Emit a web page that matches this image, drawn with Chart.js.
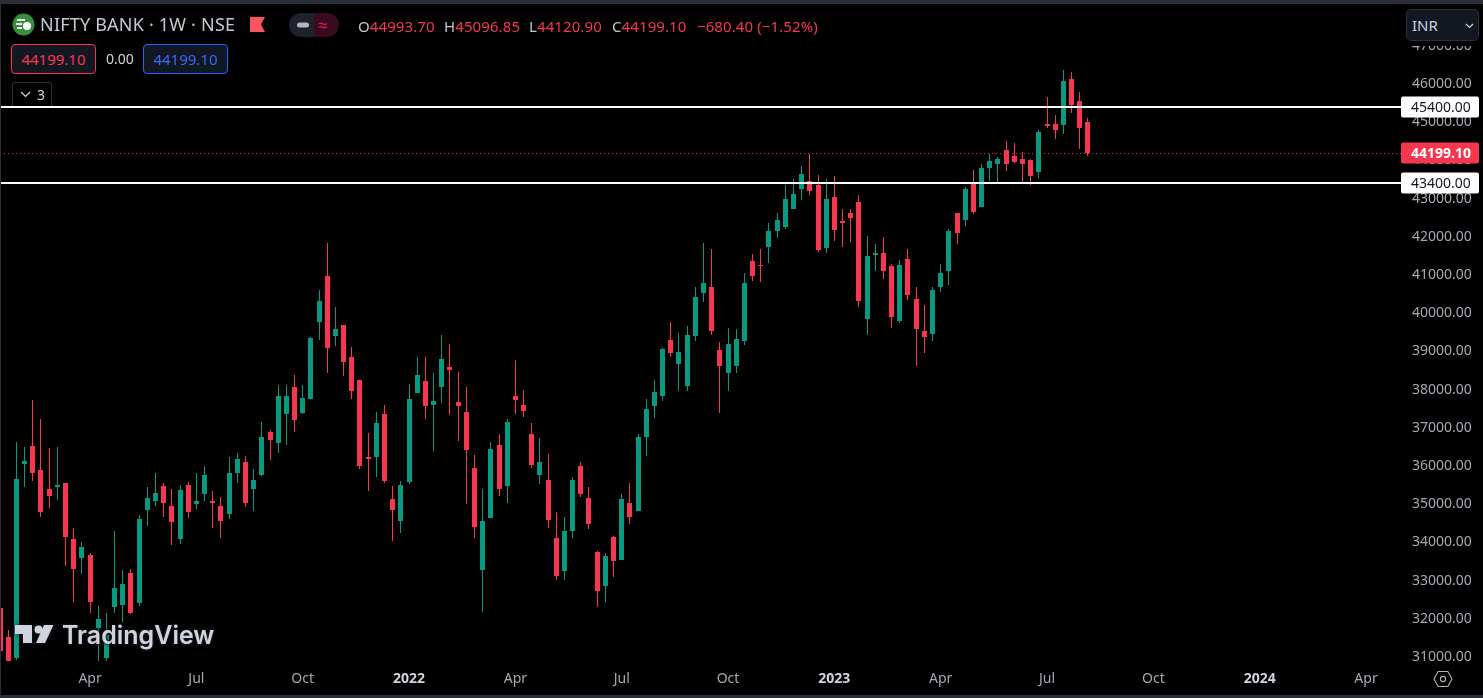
<!DOCTYPE html>
<html>
<head>
<meta charset="utf-8">
<title>NIFTY BANK 1W</title>
<script src="https://cdn.jsdelivr.net/npm/chart.js@4/dist/chart.umd.min.js"></script>
<style>
html, body { margin: 0; padding: 0; background: #000; width: 1483px; height: 698px; overflow: hidden; font-family: "Noto Sans", sans-serif; }
#candles { position: absolute; left: 0; top: 0; }
.abs { position: absolute; white-space: nowrap; }
.band { position: absolute; background: #2a2e39; }
.mask { position: absolute; background: #000; }
.ohlc { top: 15px; font-size: 15px; line-height: 22px; color: #f7374f; letter-spacing: 0.1px; }
.ohlc b { font-weight: 400; color: #c5c8d0; }
.pricebox { top: 44px; width: 83px; height: 28px; line-height: 28px; text-align: center; font-size: 15px; border-radius: 4px; background: #131722; border: 1px solid; }
</style>
</head>
<body>
<canvas id="candles" width="1483" height="698"></canvas>

<div class="band" style="left:0;top:0;width:1483px;height:4px"></div>
<div class="band" style="left:0;top:695px;width:1483px;height:3px"></div>
<div class="band" style="left:0;top:0;width:1px;height:698px"></div>

<!-- header -->
<svg class="abs" style="left:12px;top:13px" width="23" height="23" viewBox="0 0 23 23">
  <circle cx="11.5" cy="11.5" r="11" fill="#388e3c"/>
  <rect x="5" y="6" width="8" height="2" fill="#e8f5e9"/>
  <rect x="4" y="10" width="6" height="2" fill="#e8f5e9"/>
  <rect x="5" y="14" width="5" height="2" fill="#e8f5e9"/>
  <circle cx="15" cy="13" r="4" fill="#fff"/>
</svg>
<div class="abs" style="left:40px;top:12px;font-size:18px;line-height:25px;color:#c5c8d0;letter-spacing:0.2px">NIFTY BANK · 1W · NSE</div>
<svg class="abs" style="left:250px;top:17px" width="16" height="15"><polygon points="0,0 15,0 11,7.5 15,15 0,15" fill="#f9545f"/></svg>

<svg class="abs" style="left:289px;top:13px" width="50" height="24">
  <path d="M12 0H25V24H12A12 12 0 0 1 12 0Z" fill="#1e222d"/>
  <path d="M25 0H38A12 12 0 0 1 38 24H25Z" fill="#3a0a1e"/>
  <rect x="8" y="9.5" width="12" height="5" rx="2.5" fill="#b2b5be"/>
</svg>
<div class="abs" style="left:318px;top:12px;font-size:17px;line-height:25px;color:#e91e63">≈</div>

<div class="abs ohlc" style="left:358px"><b>O</b>44993.70</div>
<div class="abs ohlc" style="left:444px"><b>H</b>45096.85</div>
<div class="abs ohlc" style="left:529px"><b>L</b>44120.90</div>
<div class="abs ohlc" style="left:612px"><b>C</b>44199.10</div>
<div class="abs ohlc" style="left:697px">−680.40 (−1.52%)</div>

<div class="abs pricebox" style="left:11px;border-color:#f7374f;color:#f7374f">44199.10</div>
<div class="abs" style="left:106px;top:48px;font-size:14px;line-height:22px;color:#d1d4dc">0.00</div>
<div class="abs pricebox" style="left:143px;border-color:#2962ff;color:#2f6bff">44199.10</div>

<div class="abs" style="left:12px;top:82px;width:38px;height:23px;border:1px solid #2a2e39;border-bottom:none;border-radius:3px 3px 0 0;background:#000">
  <svg class="abs" style="left:7px;top:8px" width="11" height="7"><polyline points="1,1 5.5,5.5 10,1" fill="none" stroke="#d1d4dc" stroke-width="1.2"/></svg>
  <span class="abs" style="left:24px;top:0;font-size:14px;line-height:23px;color:#d1d4dc">3</span>
</div>

<!-- right side masks -->
<div class="mask" style="left:1406px;top:4px;width:77px;height:42px"></div>
<div class="abs" style="left:1406px;top:9px;width:71px;height:30px;border:1px solid #2a2e39;border-radius:5px;background:#131722">
  <span class="abs" style="left:5px;top:0;font-size:15px;line-height:31px;color:#c8d2e4">INR</span>
  <svg class="abs" style="left:58px;top:13px" width="9" height="6"><polyline points="1,1 4.5,4.5 8,1" fill="none" stroke="#d1d4dc" stroke-width="1.2"/></svg>
</div>
<div class="mask" style="left:1406px;top:661px;width:77px;height:34px"></div>
<svg class="abs" style="left:1433px;top:669px" width="20" height="20" viewBox="0 0 20 20">
  <polygon points="5.2,2.5 14.8,2.5 19,10 14.8,17.5 5.2,17.5 1,10" fill="none" stroke="#b2b5be" stroke-width="1.1"/>
  <circle cx="10" cy="10" r="2.6" fill="none" stroke="#b2b5be" stroke-width="1.1"/>
</svg>

<!-- watermark -->
<svg class="abs" style="left:15px;top:625px;filter:drop-shadow(0 0 2px #1a1d26)" width="39" height="19" viewBox="0 0 39 19">
  <path d="M0 0H17V18H8V9H0Z" fill="#d1d4dc"/>
  <circle cx="23.5" cy="4.5" r="4" fill="#d1d4dc"/>
  <polygon points="29,0 38.5,0 30,18 21,18" fill="#d1d4dc"/>
</svg>
<div class="abs" style="left:62px;top:617px;font-family:Inter,sans-serif;font-weight:600;font-size:25px;line-height:36px;color:#d1d4dc;text-shadow:0 0 3px #1a1d26,0 0 3px #1a1d26,0 0 2px #1a1d26">TradingView</div>

<script>
// weekly candles, oldest first
const opens = [32282,31522,30973,36051,36523,35894,35397,35449,35554,34088,33591,33669,31758,30973,32308,32360,33198,32412,34847,35083,35476,34952,34088,35502,35004,35266,35083,34952,34742,35816,36104,35397,35764,36889,36601,37360,38067,37387,37753,39769,40973,39402,39691,38853,38251,36235,36235,37360,35135,34559,35580,37910,38225,37596,38067,38591,37675,37413,35947,33276,34638,36549,35476,37832,37596,36837,35764,35633,34114,33250,34297,35999,35161,33748,32858,34140,33538,35030,34821,36758,37570,37832,39298,38670,38094,39402,40528,40685,39036,38434,38617,39272,41366,41261,41733,42151,42256,42727,43251,43460,43356,41706,43041,42413,42623,42911,39848,41523,41575,41235,39795,41418,40371,39533,39455,40685,41104,42623,42439,43408,42780,43801,43905,44272,44115,44037,44010,43696,44953,44953,44926,46131,45555,44993.7];
const highs = [32282,31706,36627,36497,37727,37230,36470,36497,35554,34376,34009,33721,32334,32151,34297,33276,33303,34716,35449,35816,35554,35397,35502,35580,35816,35999,35345,35188,36235,36339,36261,35921,37149,36942,38120,38120,38381,38120,39376,40607,41837,40162,39691,39114,38251,36863,37413,37596,35476,35606,38146,38853,38853,38434,39429,39193,38460,38067,36287,35397,36627,36837,37230,38774,37989,37125,36732,36313,34795,34664,35711,36104,35449,33774,33721,34166,35266,35554,36837,37753,38251,39088,39769,39481,39664,40685,41837,41680,39245,39612,39586,41052,41549,41680,42361,42623,43356,43513,43853,44167,43618,43513,43591,42727,42727,43094,42021,41811,41994,41288,41392,41680,40685,40214,40685,41288,42204,42623,43303,43748,43905,44167,44089,44508,44455,44220,44037,44795,45660,45188,46366,46314,45790,45096.85];
const lows = [31156,30894,30920,35449,35606,34664,34900,35109,33381,32439,33172,32151,30894,30894,32151,31915,32125,32334,34428,34952,34664,33931,33957,34638,34873,35083,34376,34114,34611,35554,34926,34821,35738,36156,36339,36549,36889,37360,37753,39298,38434,39141,38355,37753,35921,35345,35711,35554,34036,34245,35528,37910,37230,36392,37649,37334,36654,35004,34114,32177,34638,35214,35030,37360,37282,35947,35528,34376,33015,33015,34114,35188,34350,32308,32439,33093,33538,34481,34821,36261,37256,37701,38853,37963,37963,39272,40293,39429,37387,37963,38434,39167,40842,40816,41314,41968,42204,42727,42963,43094,41602,41575,41890,41733,41863,40162,39429,41104,40895,39612,39743,40345,38617,38958,39272,40554,40738,41811,42282,42597,42780,43460,43408,43722,43932,43408,43356,43539,44848,44560,44691,45241,44298,44120.9];
const closes = [31156,30894,35659,36130,35816,34795,35214,35502,34140,33303,33879,32439,31994,31575,32805,32910,32151,34611,35161,35292,35030,34533,35371,34795,35083,35764,35030,34559,35816,36182,35030,35633,36758,36680,37832,37832,37203,37779,39350,40319,39088,39586,38722,37963,35999,36182,37125,35606,34847,35502,37753,38381,37570,37701,38800,38512,37570,36418,34402,34559,36444,35397,37149,37727,37439,36025,36104,34585,33119,34297,35633,35266,34481,32727,33643,33512,35135,34664,36758,37491,37936,39062,38958,38984,39429,40423,40790,39533,38617,39193,39324,40790,40973,41235,42151,42439,42989,43120,43644,43199,41654,42989,42178,42361,42492,40319,41497,41575,41104,39900,41261,40476,39586,39376,40607,41052,42151,42099,43251,42649,43801,43984,44037,43905,43958,43905,43591,44743,44900,44796,46078,45450,44848,44199.1];

const axisMonths = ['Apr','Jul','Oct','2022','Apr','Jul','Oct','2023','Apr','Jul','Oct','2024','Apr'];
const priceTicks = [31000,32000,33000,34000,35000,36000,37000,38000,39000,40000,41000,42000,43000,44000,45000,46000,47000];
const priceLevels = [45400, 43400];
const lastPrice = 44199.1;

const upColor = '#089981';
const downColor = '#f7374f';
const fontFamily = '"Noto Sans", sans-serif';
const slots = 173; // weeks on the axis, chart leaves room on the right
const firstTick = 11;
const tickStep = 13;

const weekLabels = [];
for (let i = 0; i < slots; i++) {
    const k = (i - firstTick) / tickStep;
    weekLabels.push(Number.isInteger(k) && axisMonths[k] ? axisMonths[k] : '');
}

const candleColors = closes.map((c, i) => (c >= opens[i] ? upColor : downColor));

// keeps candles and lines on whole pixels like the original
const snapPixels = {
    id: 'snapPixels',
    afterDatasetsUpdate(chart) {
        chart.data.datasets.forEach((ds, i) => {
            chart.getDatasetMeta(i).data.forEach(el => {
                if (ds.type === 'line') {
                    el.y = Math.round(el.y) + (ds.borderWidth % 2 ? 0.5 : 0);
                } else {
                    el.x = Math.floor(el.x) + 0.5;
                    el.y = Math.round(el.y);
                    el.base = Math.round(el.base);
                }
            });
        });
    }
};

// price tags on the right axis
const priceTags = {
    id: 'priceTags',
    afterDraw(chart) {
        const ctx = chart.ctx;
        const scale = chart.scales.y;
        const tags = [
            { v: priceLevels[0], bg: '#fff', fg: '#131722', weight: '400' },
            { v: lastPrice, bg: downColor, fg: '#fff', weight: '700' },
            { v: priceLevels[1], bg: '#fff', fg: '#131722', weight: '400' }
        ];
        tags.forEach(t => {
            const y = Math.round(scale.getPixelForValue(t.v));
            ctx.save();
            ctx.fillStyle = t.bg;
            ctx.beginPath();
            ctx.roundRect(1401, y - 10.5, 78, 21, 2);
            ctx.fill();
            ctx.fillStyle = t.fg;
            ctx.font = t.weight + ' 14px ' + fontFamily;
            ctx.textAlign = 'left';
            ctx.textBaseline = 'middle';
            ctx.fillText(t.v.toFixed(2), 1411, y + 1.5);
            ctx.restore();
        });
    }
};

new Chart(document.getElementById('candles'), {
    type: 'bar',
    data: {
        labels: weekLabels,
        datasets: [
            {
                type: 'line', label: '45400', data: weekLabels.map(() => priceLevels[0]),
                borderColor: '#fff', borderWidth: 2, pointRadius: 0, order: 0
            },
            {
                type: 'line', label: '43400', data: weekLabels.map(() => priceLevels[1]),
                borderColor: '#fff', borderWidth: 2, pointRadius: 0, order: 0
            },
            {
                type: 'line', label: 'last', data: weekLabels.map(() => lastPrice),
                borderColor: downColor, borderWidth: 1, borderDash: [1, 3], pointRadius: 0, order: 1
            },
            {
                label: 'wick', data: lows.map((l, i) => [l, highs[i]]),
                backgroundColor: candleColors, barThickness: 1, grouped: false, inflateAmount: 0, order: 3
            },
            {
                label: 'body', data: opens.map((o, i) => [o, closes[i]]),
                backgroundColor: candleColors, barThickness: 5, grouped: false, inflateAmount: 0, order: 2
            }
        ]
    },
    options: {
        responsive: false,
        animation: false,
        events: [],
        layout: { padding: { left: 0.1, right: 0, top: 4, bottom: 3 } },
        plugins: { legend: { display: false }, tooltip: { enabled: false } },
        scales: {
            x: {
                offset: false,
                grid: { display: false, drawTicks: false },
                border: { display: false },
                afterFit(scale) {
                    scale.height = 34;
                    scale.paddingLeft = 0;
                    scale.paddingRight = 0;
                },
                ticks: {
                    autoSkip: false,
                    maxRotation: 0,
                    minRotation: 0,
                    padding: 10,
                    color: ctx => (/^\d/.test(ctx.tick.label) ? '#d1d4dc' : '#a6a9b2'),
                    font: ctx => ({ family: fontFamily, size: 14, weight: /^\d/.test(ctx.tick.label) ? '700' : '400' })
                }
            },
            y: {
                position: 'right',
                min: 30894,
                max: 48094,
                grid: { display: false, drawTicks: false },
                border: { display: false },
                afterBuildTicks(scale) { scale.ticks = priceTicks.map(v => ({ value: v })); },
                afterFit(scale) {
                    scale.width = 76.11;
                    scale.paddingTop = 0;
                    scale.paddingBottom = 0;
                },
                ticks: {
                    padding: 5,
                    color: '#a6a9b2',
                    font: { family: fontFamily, size: 14 },
                    callback: v => v.toFixed(2)
                }
            }
        }
    },
    plugins: [snapPixels, priceTags]
});
</script>
</body>
</html>
